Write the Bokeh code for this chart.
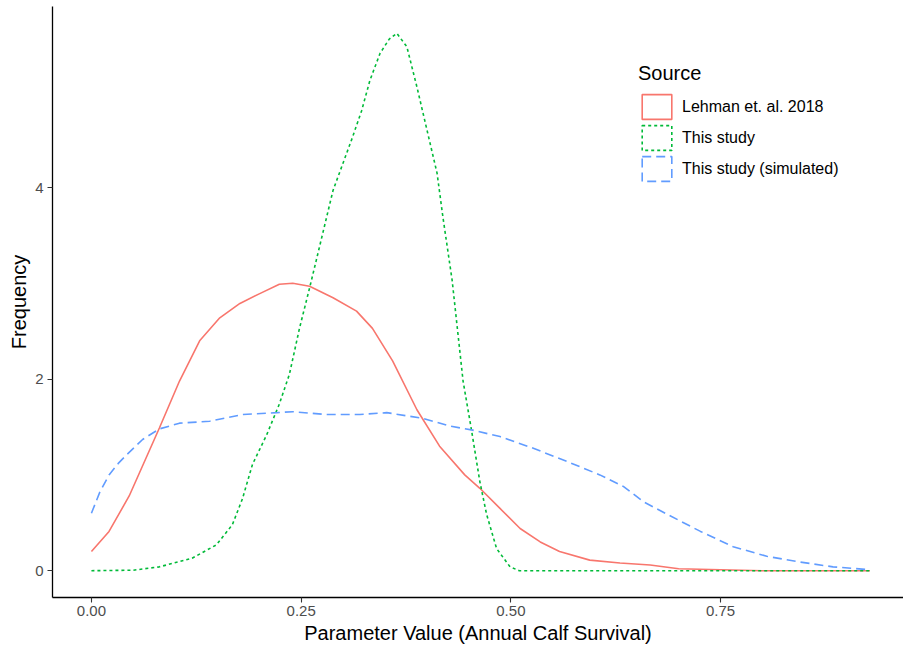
from bokeh.plotting import figure
from bokeh.models import Range1d, FixedTicker, NumeralTickFormatter, Legend, LegendItem, ColumnDataSource
from bokeh.embed import file_html
from bokeh.resources import INLINE

# Lehman et. al. 2018
lehman_x = [0, 0.021, 0.045, 0.081, 0.105, 0.129, 0.153, 0.177, 0.2, 0.224, 0.24, 0.26, 0.288, 0.316,
            0.335, 0.359, 0.388, 0.415, 0.445, 0.463, 0.487, 0.511, 0.535, 0.558, 0.594, 0.63, 0.666,
            0.70, 0.75, 0.80, 0.928]
lehman_y = [0.2, 0.41, 0.78, 1.49, 1.98, 2.4, 2.64, 2.79, 2.89, 2.99, 3.0, 2.97, 2.85, 2.71,
            2.53, 2.19, 1.68, 1.3, 1.0, 0.86, 0.65, 0.44, 0.3, 0.2, 0.11, 0.08, 0.06,
            0.02, 0.01, 0.0, 0.0]

# This study
study_x = [0, 0.05, 0.081, 0.12, 0.149, 0.168, 0.18, 0.192, 0.209, 0.224, 0.236, 0.248, 0.26, 0.268,
           0.288, 0.311, 0.322, 0.332, 0.344, 0.355, 0.364, 0.376, 0.388, 0.40, 0.412, 0.419, 0.43,
           0.443, 0.453, 0.463, 0.471, 0.483, 0.499, 0.51, 0.928]
study_y = [0, 0.005, 0.04, 0.13, 0.27, 0.48, 0.75, 1.11, 1.42, 1.74, 2.05, 2.53, 2.95, 3.24,
           3.97, 4.52, 4.8, 5.12, 5.4, 5.55, 5.61, 5.47, 5.05, 4.6, 4.15, 3.69, 3.03,
           1.98, 1.47, 0.93, 0.59, 0.23, 0.04, 0.0, 0.0]

# This study (simulated)
sim_x = [0, 0.01, 0.021, 0.032, 0.042, 0.061, 0.081, 0.105, 0.141, 0.18, 0.221, 0.24, 0.28, 0.32,
         0.352, 0.395, 0.427, 0.453, 0.487, 0.526, 0.567, 0.606, 0.634, 0.658, 0.686, 0.726, 0.765,
         0.805, 0.845, 0.884, 0.928]
sim_y = [0.6, 0.82, 1.0, 1.12, 1.21, 1.37, 1.48, 1.54, 1.56, 1.63, 1.65, 1.66, 1.63, 1.63,
         1.65, 1.59, 1.51, 1.47, 1.4, 1.28, 1.14, 1.0, 0.88, 0.72, 0.59, 0.41, 0.25,
         0.15, 0.09, 0.04, 0.01]

x_ticks = [0, 0.25, 0.5, 0.75]
y_ticks = [0, 2, 4]
labels = ["Lehman et. al. 2018", "This study", "This study (simulated)"]
colors = ["#F8766D", "#00BA38", "#619CFF"]
dashes = ["solid", "3 3", "9 5"]

FONT = "Liberation Sans"
nan = float("nan")

p = figure(output_backend="svg", toolbar_location=None,
           frame_width=851, frame_height=591,
           min_border_left=52, min_border_right=0, min_border_top=6, min_border_bottom=49,
           x_range=Range1d(-0.0464, 0.968), y_range=Range1d(-0.28, 5.89))
p.outline_line_color = None
p.xgrid.visible = False
p.ygrid.visible = False
p.background_fill_color = "white"
p.border_fill_color = "white"

series = [(lehman_x, lehman_y), (study_x, study_y), (sim_x, sim_y)]
items = []
for (xs, ys), lab, c, d in zip(series, labels, colors, dashes):
    p.line(xs, ys, line_color=c, line_width=1.6, line_dash=d)
    # legend key (box outline like ggplot density keys); no visible mark on the plot
    src = ColumnDataSource(dict(left=[nan], right=[nan], top=[nan], bottom=[nan]))
    r = p.quad(left="left", right="right", top="top", bottom="bottom", source=src,
               fill_color=None, line_color=c, line_width=1.6, line_dash=d)
    items.append(LegendItem(label=lab, renderers=[r]))

legend = Legend(items=items, location=(586, 413), title="Source",
                title_text_font=FONT, title_text_font_size="20px", title_text_color="black",
                title_text_font_style="normal", title_standoff=6,
                label_text_font=FONT, label_text_font_size="16px", label_text_color="black",
                glyph_width=37, glyph_height=31, label_height=31, spacing=0, padding=0, margin=0,
                label_standoff=7, border_line_color=None, background_fill_alpha=0)
p.add_layout(legend)

for ax in (p.xaxis[0], p.yaxis[0]):
    ax.axis_line_color = "black"
    ax.axis_line_width = 1.3
    ax.major_tick_line_color = "#333333"
    ax.major_tick_line_width = 1.1
    ax.major_tick_out = 5
    ax.major_tick_in = 0
    ax.minor_tick_line_color = None
    ax.major_label_text_font = FONT
    ax.major_label_text_font_size = "15px"
    ax.major_label_text_color = "#4D4D4D"
    ax.axis_label_text_font = FONT
    ax.axis_label_text_font_size = "20px"
    ax.axis_label_text_font_style = "normal"
    ax.axis_label_text_color = "black"

p.xaxis[0].ticker = FixedTicker(ticks=x_ticks)
p.xaxis[0].formatter = NumeralTickFormatter(format="0.00")
p.xaxis[0].axis_label = "Parameter Value (Annual Calf Survival)"
p.xaxis[0].major_label_standoff = 3
p.xaxis[0].axis_label_standoff = 3
p.yaxis[0].ticker = FixedTicker(ticks=y_ticks)
p.yaxis[0].formatter = NumeralTickFormatter(format="0")
p.yaxis[0].axis_label = "Frequency"
p.yaxis[0].major_label_standoff = 4
p.yaxis[0].axis_label_standoff = 2

open("out.html", "w").write(file_html(p, INLINE))
